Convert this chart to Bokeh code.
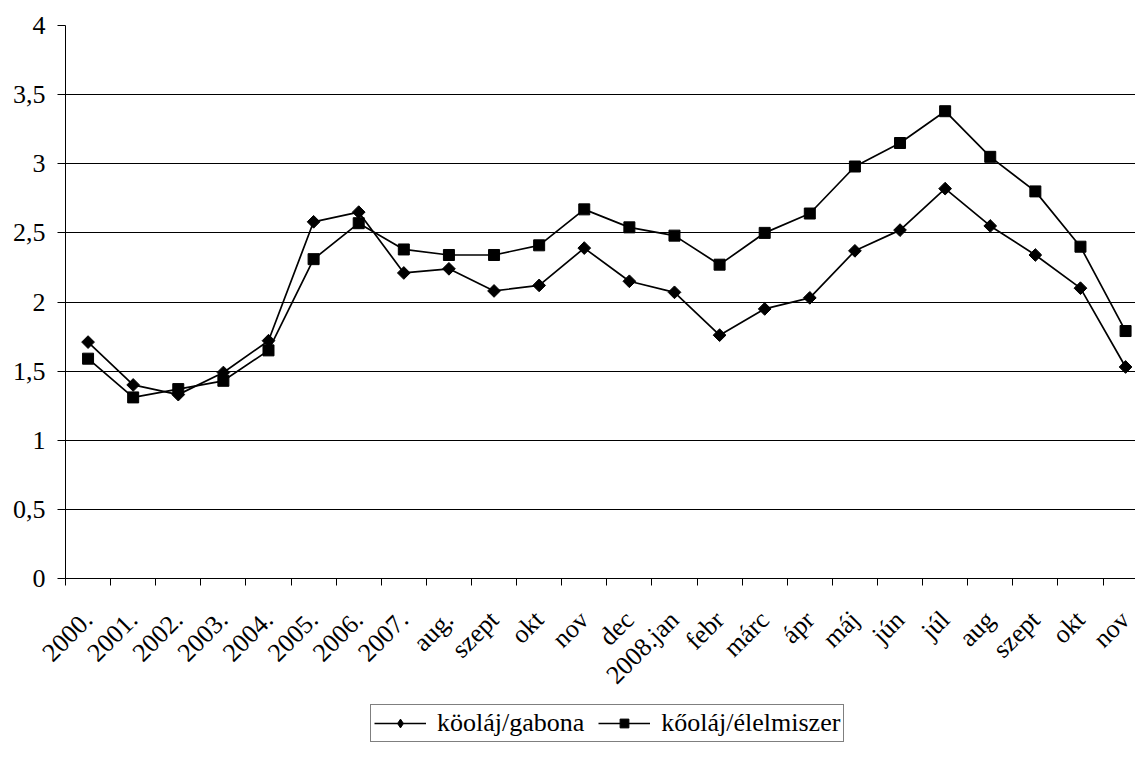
import math
from bokeh.plotting import figure
from bokeh.layouts import column
from bokeh.models import (Range1d, FixedTicker, CustomJSTickFormatter, Legend, LegendItem)
from bokeh.embed import file_html
from bokeh.resources import INLINE

categories = ["2000.", "2001.", "2002.", "2003.", "2004.", "2005.", "2006.", "2007.",
              "aug.", "szept", "okt", "nov", "dec", "2008.jan", "febr", "márc", "ápr",
              "máj", "jún", "júl", "aug", "szept", "okt", "nov"]

gabona = [1.71, 1.40, 1.33, 1.49, 1.72, 2.58, 2.65, 2.21, 2.24, 2.08, 2.12, 2.39,
          2.15, 2.07, 1.76, 1.95, 2.03, 2.37, 2.52, 2.82, 2.55, 2.34, 2.10, 1.53]

elelmiszer = [1.59, 1.31, 1.37, 1.43, 1.65, 2.31, 2.57, 2.38, 2.34, 2.34, 2.41, 2.67,
              2.54, 2.48, 2.27, 2.50, 2.64, 2.98, 3.15, 3.38, 3.05, 2.80, 2.40, 1.79]

series_names = ["köoláj/gabona", "kőoláj/élelmiszer"]
y_ticks = [0, 0.5, 1, 1.5, 2, 2.5, 3, 3.5, 4]

FONT = "Liberation Serif"

xs = list(range(len(categories)))

p = figure(width=1135, height=704, output_backend="svg", toolbar_location=None,
           x_range=Range1d(-0.5, 23.22), y_range=Range1d(0, 4),
           min_border_left=65, min_border_top=25, min_border_right=0,
           min_border_bottom=126)
p.outline_line_color = None
p.background_fill_color = "white"
p.border_fill_color = "white"

# lines + markers
p.line(xs, gabona, line_color="black", line_width=1.7)
p.scatter(xs, gabona, marker="square", angle=math.pi / 4, size=9,
          fill_color="black", line_color="black")
p.line(xs, elelmiszer, line_color="black", line_width=1.7)
p.scatter(xs, elelmiszer, marker="square", size=11,
          fill_color="black", line_color="black")

# x axis
xa = p.xaxis[0]
xa.ticker = FixedTicker(ticks=xs, minor_ticks=[i - 0.5 for i in range(len(categories) + 1)])
xa.major_label_overrides = {i: c for i, c in enumerate(categories)}
xa.major_label_orientation = math.pi / 4
xa.major_tick_out = 0
xa.major_tick_in = 0
xa.minor_tick_out = 7
xa.minor_tick_in = 0
xa.minor_tick_line_color = "black"
xa.axis_line_color = "black"
xa.major_label_text_font = FONT
xa.major_label_text_font_size = "26px"
xa.major_label_text_color = "black"
xa.major_label_standoff = 30

# y axis
ya = p.yaxis[0]
ya.ticker = FixedTicker(ticks=y_ticks)
ya.formatter = CustomJSTickFormatter(code="return tick.toString().replace('.', ',')")
ya.major_tick_out = 8
ya.major_tick_in = 0
ya.minor_tick_out = 0
ya.minor_tick_in = 0
ya.major_tick_line_color = "black"
ya.axis_line_color = "black"
ya.major_label_text_font = FONT
ya.major_label_text_font_size = "26px"
ya.major_label_text_color = "black"
ya.major_label_standoff = 12

p.xgrid.visible = False
p.ygrid.ticker = FixedTicker(ticks=y_ticks)
p.ygrid.grid_line_color = "black"
p.ygrid.grid_line_width = 1

# legend strip below the chart (series drawn out of view, only the legend shows)
lg = figure(width=1135, height=38, output_backend="svg", toolbar_location=None,
            x_axis_type=None, y_axis_type=None, min_border=0,
            x_range=Range1d(-0.5, 23.22), y_range=Range1d(10, 11))
lg.outline_line_color = None
lg.grid.visible = False
r1 = [lg.line(xs, gabona, line_color="black", line_width=1.7),
      lg.scatter(xs, gabona, marker="diamond", fill_color="black", line_color="black")]
r2 = [lg.line(xs, elelmiszer, line_color="black", line_width=1.7),
      lg.scatter(xs, elelmiszer, marker="square", fill_color="black", line_color="black")]
legend = Legend(items=[LegendItem(label=series_names[0], renderers=r1),
                       LegendItem(label=series_names[1], renderers=r2)],
                orientation="horizontal", location=(305, 0),
                label_text_font=FONT, label_text_font_size="26px",
                label_text_color="black",
                border_line_color="black", border_line_width=1,
                background_fill_color="white", background_fill_alpha=1,
                padding=3, margin=0, spacing=14, glyph_width=52, glyph_height=22,
                label_standoff=11, label_height=26)
lg.add_layout(legend, "center")

open("out.html", "w").write(file_html(column(p, lg), INLINE))
